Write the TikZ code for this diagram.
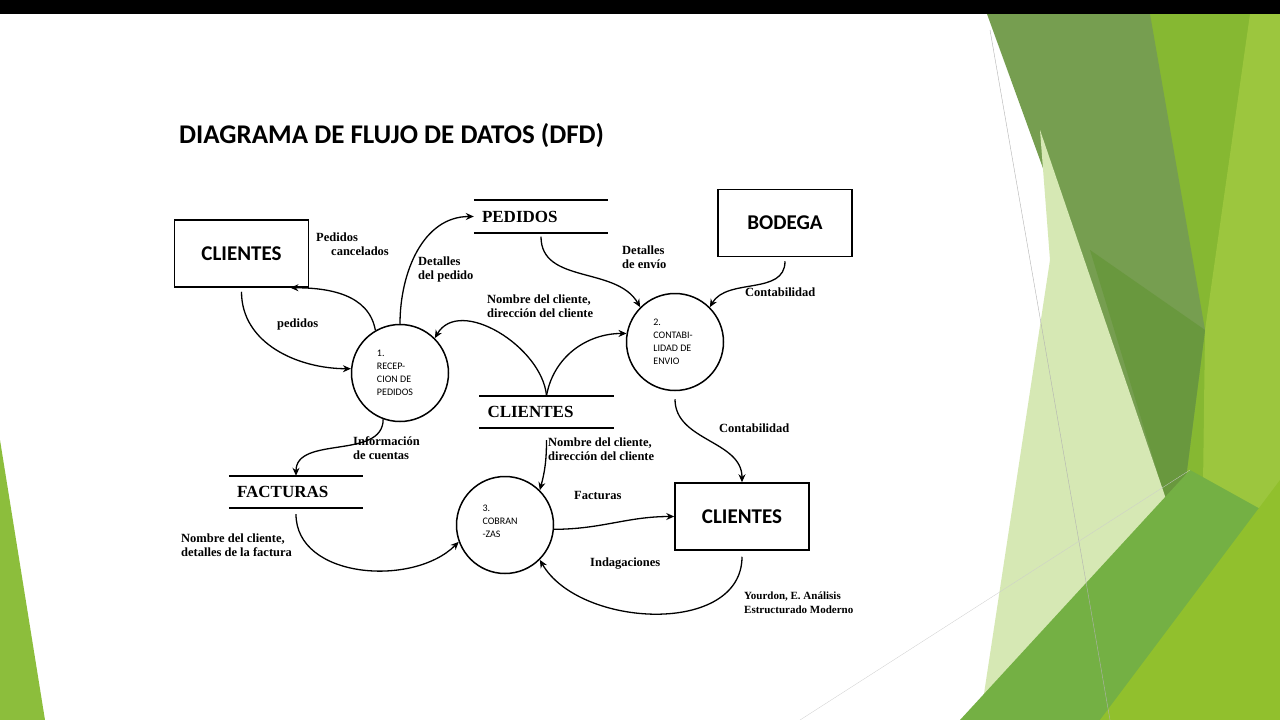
\documentclass[tikz,border=0pt]{standalone}
\usepackage{fontspec}
\setmainfont{Liberation Serif}
\newfontfamily\carl{Carlito}
\usetikzlibrary{arrows.meta}
\begin{document}
\begin{tikzpicture}[x=1pt,y=-1pt,
  box/.style={draw,line width=1.5pt,minimum width=134pt,minimum height=67pt,font=\carl\bfseries\fontsize{21}{24}\selectfont},
  store/.style={minimum width=134pt,minimum height=32pt,inner xsep=8pt,text width=118pt,align=left,font=\bfseries\fontsize{17}{20}\selectfont},
  proc/.style={draw,circle,line width=1.5pt,minimum size=97pt,inner sep=0pt},
  ptxt/.style={align=left,font=\carl\fontsize{10}{13}\selectfont},
  lbl/.style={align=left,font=\bfseries\fontsize{12.5}{14}\selectfont,inner sep=0pt,anchor=north west},
  fl/.style={line width=1.3pt,-{Stealth[length=8pt,width=7pt]}},
  sl/.style={line width=2pt}]
\useasboundingbox (0,0) rectangle (1280,720);
\fill[white] (0,0) rectangle (1280,720);
% decoration
\fill[black] (0,0) rectangle (1280,14);
\fill[color={rgb,255:red,134;green,184;blue,50}] (1150,14) rectangle (1280,720);
\fill[color={rgb,255:red,156;green,198;blue,62}] (1250,14) -- (1280,14) -- (1280,720) -- (1200,720) -- (1205,330) -- cycle;
\fill[color={rgb,255:red,118;green,158;blue,80}] (987,14) -- (1150,14) -- (1205,330) -- (1178,540) -- cycle;
\fill[color={rgb,255:red,105;green,152;blue,62}] (1090,250) -- (1205,330) -- (1178,540) -- cycle;
\fill[color={rgb,255:red,214;green,232;blue,180}] (1040,130) -- (1180,540) -- (980,720) -- (1050,260) -- cycle;
\fill[color={rgb,255:red,116;green,176;blue,68}] (960,720) -- (1190,470) -- (1280,520) -- (1280,720) -- cycle;
\fill[color={rgb,255:red,145;green,192;blue,45}] (1100,720) -- (1280,480) -- (1280,720) -- cycle;
\draw[gray!60,line width=0.4pt] (990,30) -- (1110,720);
\draw[gray!40,line width=0.3pt] (800,720) -- (1190,470);
\fill[color={rgb,255:red,140;green,190;blue,60}] (0,440) -- (45,720) -- (0,720) -- cycle;
% title
\node[anchor=west,font=\carl\bfseries\fontsize{27}{30}\selectfont,inner sep=0pt] (title) at (179,136) {DIAGRAMA DE FLUJO DE DATOS (DFD)};
% entities
\node[box] (cli1) at (241.5,253.5) {CLIENTES};
\node[box] (bod) at (785,223) {BODEGA};
\node[box] (cli2) at (742,516.5) {CLIENTES};
% stores
\node[store] (ped) at (541,216.5) {PEDIDOS};
\draw[sl] (ped.north west) -- (ped.north east) (ped.south west) -- (ped.south east);
\node[store] (cst) at (546.5,412) {CLIENTES};
\draw[sl] (cst.north west) -- (cst.north east) (cst.south west) -- (cst.south east);
\node[store] (fac) at (296,492) {FACTURAS};
\draw[sl] (fac.north west) -- (fac.north east) (fac.south west) -- (fac.south east);
% processes
\node[proc] (p1) at (400,373) {};
\node[ptxt] (p1t) at (395,373) {1.\\RECEP-\\CION DE\\PEDIDOS};
\node[proc] (p2) at (675,342) {};
\node[ptxt] (p2t) at (673,342) {2.\\CONTABI-\\LIDAD DE\\ENVIO};
\node[proc] (p3) at (505,525) {};
\node[ptxt] (p3t) at (500,521) {3.\\COBRAN\\-ZAS};
% flows
\draw[fl] (cli1.south) ++(0,4) to[out=-90,in=180] (p1.175);
\draw[fl] (p1.120) to[out=100,in=0] (cli1.-35);
\draw[fl] (p1.90) to[out=90,in=180] (ped.west);
\draw[fl] (cst.north) to[out=95,in=60] (p1.45);
\draw[fl] (cst.north) to[out=80,in=180] (p2.170);
\draw[fl] (ped.south) ++(0,4) to[out=-90,in=120] (p2.135);
\draw[fl] (bod.south) ++(0,4) to[out=-90,in=60] (p2.45);
\draw[fl] (p2.-90) ++(0,8) to[out=-90,in=90] (cli2.north);
\draw[fl] (p1.-110) to[out=-90,in=90] (fac.north);
\draw[fl] (cst.south) ++(0,12) to[out=-90,in=75] (p3.45);
\draw[fl] (p3.-5) to[out=0,in=180] (cli2.west);
\draw[fl] (cli2.south) ++(0,6) to[out=-90,in=-60] (p3.-45);
\draw[fl] (fac.south) ++(0,6) to[out=-90,in=-135] (p3.-160);
% labels
\node[lbl] (l1) at (316,233) {Pedidos\\\hspace*{15pt}cancelados};
\node[lbl] (l2) at (277,319) {pedidos};
\node[lbl] (l3) at (418,257) {Detalles\\del pedido};
\node[lbl] (l4) at (487,295) {Nombre del cliente,\\dirección del cliente};
\node[lbl] (l5) at (622,246) {Detalles\\de envío};
\node[lbl] (l6) at (745,288) {Contabilidad};
\node[lbl] (l7) at (719,424) {Contabilidad};
\node[lbl] (l8) at (353,436) {Información\\de cuentas};
\node[lbl] (l9) at (548,438) {Nombre del cliente,\\dirección del cliente};
\node[lbl] (l10) at (574,491) {Facturas};
\node[lbl] (l11) at (590,558) {Indagaciones};
\node[lbl] (l12) at (181,534) {Nombre del cliente,\\detalles de la factura};
\node[lbl,font=\bfseries\fontsize{11}{14}\selectfont] (l13) at (744,592) {Yourdon, E. Análisis\\Estructurado Moderno};
\end{tikzpicture}
\end{document}
